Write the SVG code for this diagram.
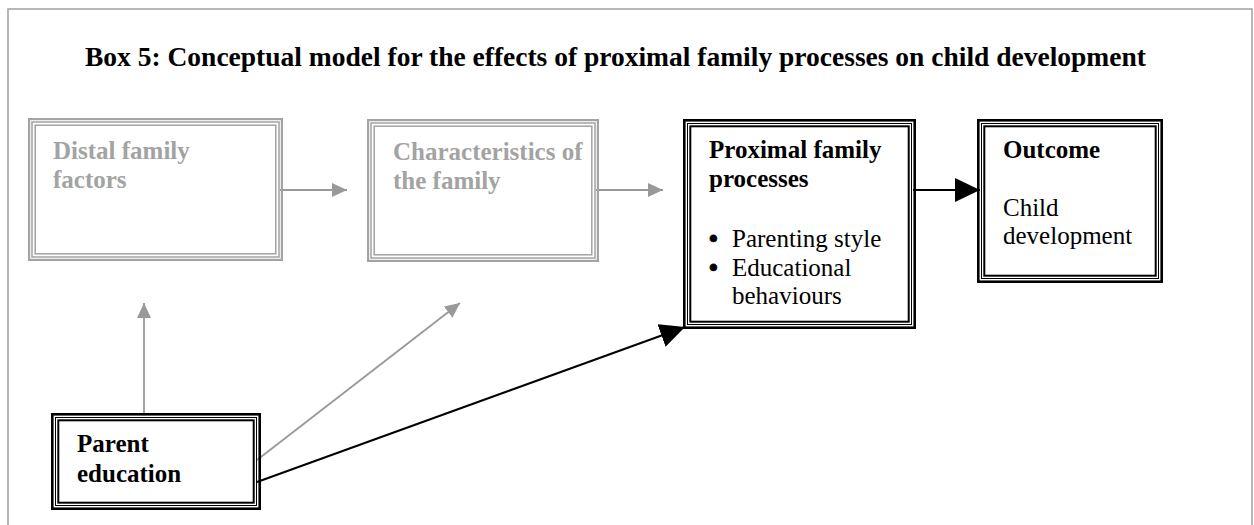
<svg xmlns="http://www.w3.org/2000/svg" width="1254" height="525" viewBox="0 0 1254 525">
  <style>
    text { font-family: "Liberation Serif", "Times New Roman", serif; font-size: 25px; }
    .title { font-size: 27.5px; font-weight: bold; fill: #000; }
    .b { font-weight: bold; }
    .dim { fill: #a3a3a3; }
    .dark { fill: #000; }
    .bullet { font-weight: bold; stroke: #000; stroke-width: 0.8; }
    .frame { fill: none; stroke: #a0a0a0; stroke-width: 1.5; }
    .g1 { fill: none; stroke: #a3a3a3; stroke-width: 2.2; }
    .g2 { fill: none; stroke: #a3a3a3; stroke-width: 1.5; }
    .k1 { fill: none; stroke: #000; stroke-width: 2.6; }
    .k2 { fill: none; stroke: #000; stroke-width: 1; }
    .k3 { fill: none; stroke: #000; stroke-width: 2; }
    .gline { fill: none; stroke: #999; stroke-width: 1.8; marker-end: url(#headGrey); }
    .kline { fill: none; stroke: #000; stroke-width: 2; marker-end: url(#headBlack); }
  </style>
  <defs>
    <marker id="headGrey" markerUnits="userSpaceOnUse" markerWidth="15" markerHeight="14" refX="15" refY="7" orient="auto">
      <path d="M0,0 L15,7 L0,14 Z" fill="#999"/>
    </marker>
    <marker id="headBlack" markerUnits="userSpaceOnUse" markerWidth="25" markerHeight="24" refX="25" refY="12" orient="auto">
      <path d="M0,0 L25,12 L0,24 Z" fill="#000"/>
    </marker>
  </defs>

  <rect width="1254" height="525" fill="#fff"/>

  <!-- surrounding box frame, open at the bottom -->
  <path class="frame" d="M8,525 V9 H1252 V525"/>

  <text class="title" x="85" y="66">Box 5: Conceptual model for the effects of proximal family processes on child development</text>

  <!-- connectors -->
  <g id="connectors">
    <line class="gline" x1="280" y1="190" x2="347" y2="190"/>
    <line class="gline" x1="596" y1="190" x2="663" y2="190"/>
    <line class="gline" x1="144" y1="413" x2="144" y2="303"/>
    <line class="gline" x1="257" y1="460" x2="460" y2="303"/>
    <line class="kline" x1="913" y1="190" x2="980" y2="190"/>
    <line class="kline" x1="257" y1="482" x2="685" y2="327"/>
  </g>

  <!-- Distal family factors (greyed) -->
  <g id="distal">
    <rect class="g1" x="29.1" y="119.1" width="252.8" height="140.8"/>
    <rect class="g2" x="32" y="122" width="247" height="135"/>
    <rect class="g2" x="35.2" y="125.2" width="240.6" height="128.6"/>
    <text class="b dim" x="53" y="159">Distal family</text>
    <text class="b dim" x="53" y="188">factors</text>
  </g>

  <!-- Characteristics of the family (greyed) -->
  <g id="characteristics">
    <rect class="g1" x="368.1" y="120.1" width="229.8" height="140.8"/>
    <rect class="g2" x="371" y="123" width="224" height="135"/>
    <rect class="g2" x="374.2" y="126.2" width="217.6" height="128.6"/>
    <text class="b dim" x="393" y="160">Characteristics of</text>
    <text class="b dim" x="393" y="189">the family</text>
  </g>

  <!-- Proximal family processes -->
  <g id="proximal">
    <rect class="k1" x="684.3" y="120.3" width="230.4" height="207.4"/>
    <rect class="k2" x="687.5" y="123.5" width="224" height="201"/>
    <rect class="k3" x="690.3" y="126.3" width="218.4" height="195.4"/>
    <text class="b dark" x="709" y="158">Proximal family</text>
    <text class="b dark" x="709" y="187">processes</text>
    <text class="dark bullet" x="709" y="247">•</text>
    <text class="dark" x="732" y="247">Parenting style</text>
    <text class="dark bullet" x="709" y="276">•</text>
    <text class="dark" x="732" y="276">Educational</text>
    <text class="dark" x="732" y="304">behaviours</text>
  </g>

  <!-- Outcome -->
  <g id="outcome">
    <rect class="k1" x="978.3" y="120.3" width="183.4" height="161.4"/>
    <rect class="k2" x="981.5" y="123.5" width="177" height="155"/>
    <rect class="k3" x="984.3" y="126.3" width="171.4" height="149.4"/>
    <text class="b dark" x="1003" y="158">Outcome</text>
    <text class="dark" x="1003" y="216">Child</text>
    <text class="dark" x="1003" y="244">development</text>
  </g>

  <!-- Parent education -->
  <g id="parent">
    <rect class="k1" x="52.3" y="414.3" width="207.4" height="94.4"/>
    <rect class="k2" x="55.5" y="417.5" width="201" height="88"/>
    <rect class="k3" x="58.3" y="420.3" width="195.4" height="82.4"/>
    <text class="b dark" x="77" y="452">Parent</text>
    <text class="b dark" x="77" y="482">education</text>
  </g>
</svg>
